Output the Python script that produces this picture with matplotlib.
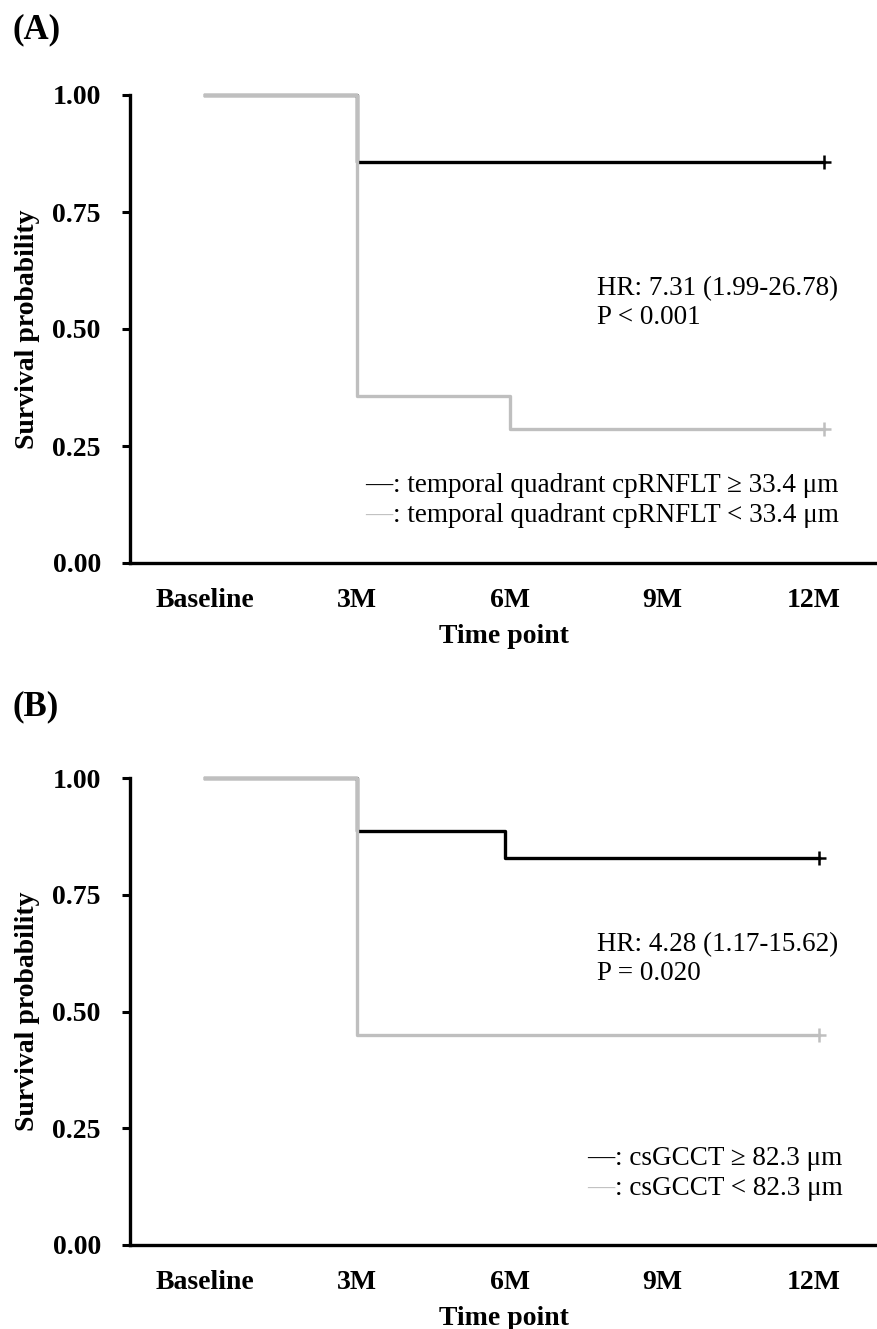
import numpy as np
import matplotlib
matplotlib.use("Agg")
import matplotlib.pyplot as plt

plt.rcParams['font.family'] = ['Liberation Serif', 'DejaVu Serif']

# ---- data (months, survival probability) ----
tick_pos = [0, 3, 6, 9, 12]
tick_labels = ['Baseline', '3M', '6M', '9M', '12M']
y_ticks = [0.0, 0.25, 0.50, 0.75, 1.00]

# panel A
a_high_t = [0, 3, 12.2]
a_high_s = [1.0, 0.857, 0.857]
a_low_t = [0, 3, 6, 12.2]
a_low_s = [1.0, 0.357, 0.286, 0.286]
a_hr = 'HR: 7.31 (1.99-26.78)'
a_p = 'P < 0.001'
a_leg = ['temporal quadrant cpRNFLT \u2265 33.4 \u03bcm',
         'temporal quadrant cpRNFLT < 33.4 \u03bcm']

# panel B
b_high_t = [0, 3, 5.9, 12.1]
b_high_s = [1.0, 0.886, 0.829, 0.829]
b_low_t = [0, 3, 12.1]
b_low_s = [1.0, 0.45, 0.45]
b_hr = 'HR: 4.28 (1.17-15.62)'
b_p = 'P = 0.020'
b_leg = ['csGCCT \u2265 82.3 \u03bcm', 'csGCCT < 82.3 \u03bcm']

BLACK = '#000000'
GRAY = '#bfbfbf'
W, H = 878, 1329
FS = 20
FS_TXT = 19.5

fig = plt.figure(figsize=(W / 100, H / 100), dpi=100)


def px(x, y):
    return x / W, 1 - y / H


def panel(top, bottom, ht, hs, lt, ls, letter, letter_y, hr, p, leg,
          hr_y, leg_y, leg_x):
    ax = fig.add_axes([130 / W, 1 - bottom / H, (W - 130) / W, (bottom - top) / H])
    ax.step(ht, hs, where='post', color=BLACK, lw=2.4, clip_on=False)
    ax.step(lt, ls, where='post', color=GRAY, lw=2.4, clip_on=False)
    ax.plot(ht[-1], hs[-1], marker='+', color=BLACK, ms=10, mew=1.8, clip_on=False)
    ax.plot(lt[-1], ls[-1], marker='+', color=GRAY, ms=10, mew=1.8, clip_on=False)

    ax.set_xlim(-1.48, 13.26)
    ax.set_ylim(0, 1.0)
    ax.set_xticks(tick_pos)
    ax.set_xticklabels(tick_labels, fontsize=FS, fontweight='bold')
    ax.set_yticks(y_ticks)
    ax.set_yticklabels([f'{v:.2f}' for v in y_ticks], fontsize=FS, fontweight='bold')
    ax.tick_params(axis='x', length=0, pad=18)
    ax.tick_params(axis='y', length=6, width=2.2, pad=15)
    for s in ['top', 'right']:
        ax.spines[s].set_visible(False)
    for s in ['left', 'bottom']:
        ax.spines[s].set_linewidth(2.4)
    ax.set_xlabel('Time point', fontsize=FS, fontweight='bold', labelpad=8)
    ax.set_ylabel('Survival probability', fontsize=FS, fontweight='bold', labelpad=9)

    fig.text(*px(13, letter_y), letter, fontsize=25, fontweight='bold', va='center')
    fig.text(*px(597, hr_y), hr, fontsize=FS_TXT, va='baseline')
    fig.text(*px(597, hr_y + 29), p, fontsize=FS_TXT, va='baseline')
    for i, (lab, col) in enumerate(zip(leg, [BLACK, GRAY])):
        yb = leg_y + 30 * i
        fig.text(*px(leg_x, yb), '\u2014', fontsize=FS_TXT, color=col, va='baseline')
        fig.text(*px(leg_x + 28, yb), ': ' + lab, fontsize=FS_TXT, va='baseline')
    return ax


panel(95, 563, a_high_t, a_high_s, a_low_t, a_low_s, '(A)', 30, a_hr, a_p, a_leg,
      295, 492, 365)
panel(778, 1245, b_high_t, b_high_s, b_low_t, b_low_s, '(B)', 707, b_hr, b_p, b_leg,
      951, 1165, 587)

fig.savefig('out.png', dpi=100)
